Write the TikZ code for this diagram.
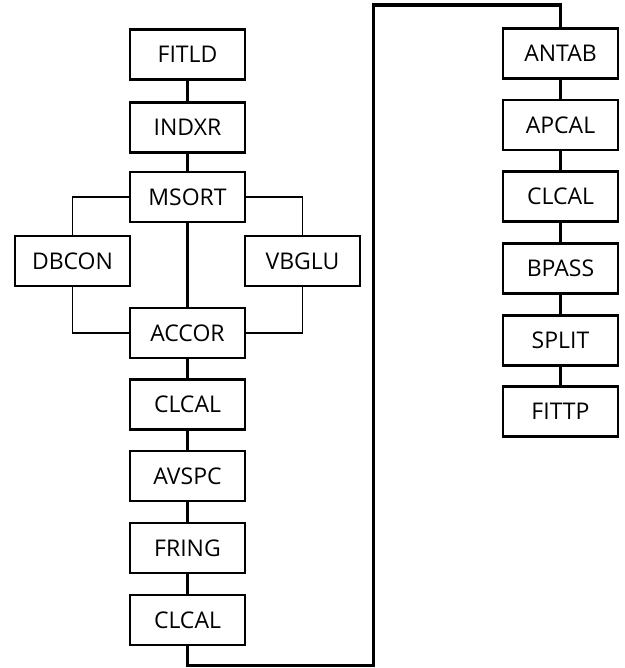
\documentclass[tikz,border=0pt]{standalone}
\usepackage{fontspec}
\setmainfont{Open Sans}
\begin{document}
\begin{tikzpicture}[x=1pt,y=-1pt,
  procbox/.style={draw, line width=2.3pt, minimum width=115pt, minimum height=50pt, inner sep=0pt, font=\fontsize{23}{23}\selectfont},
  mainline/.style={line width=3.2pt},
  sideline/.style={line width=1.4pt},
  every path/.style={line join=miter}]
\useasboundingbox[fill=white] (0,0) rectangle (624,668);
% left column
\node[procbox] (fitld) at (187.5,54.5) {FITLD};
\node[procbox] (indxr) at (187.5,127.5) {INDXR};
\node[procbox] (msort) at (187.5,197) {MSORT};
\node[procbox] (dbcon) at (72.5,261) {DBCON};
\node[procbox] (vbglu) at (302.5,261) {VBGLU};
\node[procbox] (accor) at (187.5,333) {ACCOR};
\node[procbox] (clcala) at (187.5,404.5) {CLCAL};
\node[procbox] (avspc) at (187.5,476) {AVSPC};
\node[procbox] (fring) at (187.5,548) {FRING};
\node[procbox] (clcalb) at (187.5,620) {CLCAL};
% right column
\node[procbox] (antab) at (560.5,53.5) {ANTAB};
\node[procbox] (apcal) at (560.5,125) {APCAL};
\node[procbox] (clcalc) at (560.5,196.5) {CLCAL};
\node[procbox] (bpass) at (560.5,268.5) {BPASS};
\node[procbox] (split) at (560.5,340.5) {SPLIT};
\node[procbox] (fittp) at (560.5,411.5) {FITTP};
% main connectors
\draw[mainline] (fitld) -- (indxr);
\draw[mainline] (indxr) -- (msort);
\draw[mainline] (msort) -- (accor);
\draw[mainline] (accor) -- (clcala);
\draw[mainline] (clcala) -- (avspc);
\draw[mainline] (avspc) -- (fring);
\draw[mainline] (fring) -- (clcalb);
\draw[mainline] (antab) -- (apcal);
\draw[mainline] (apcal) -- (clcalc);
\draw[mainline] (clcalc) -- (bpass);
\draw[mainline] (bpass) -- (split);
\draw[mainline] (split) -- (fittp);
% side branches
\draw[sideline] (msort.west) -| (dbcon.north);
\draw[sideline] (dbcon.south) |- (accor.west);
\draw[sideline] (msort.east) -| (vbglu.north);
\draw[sideline] (vbglu.south) |- (accor.east);
% long link
\coordinate (lowturn) at (373.5,665.5);
\coordinate (highturn) at (373.5,5);
\draw[mainline] (clcalb.south) |- (lowturn) -- (highturn) -| (antab.north);
\end{tikzpicture}
\end{document}
